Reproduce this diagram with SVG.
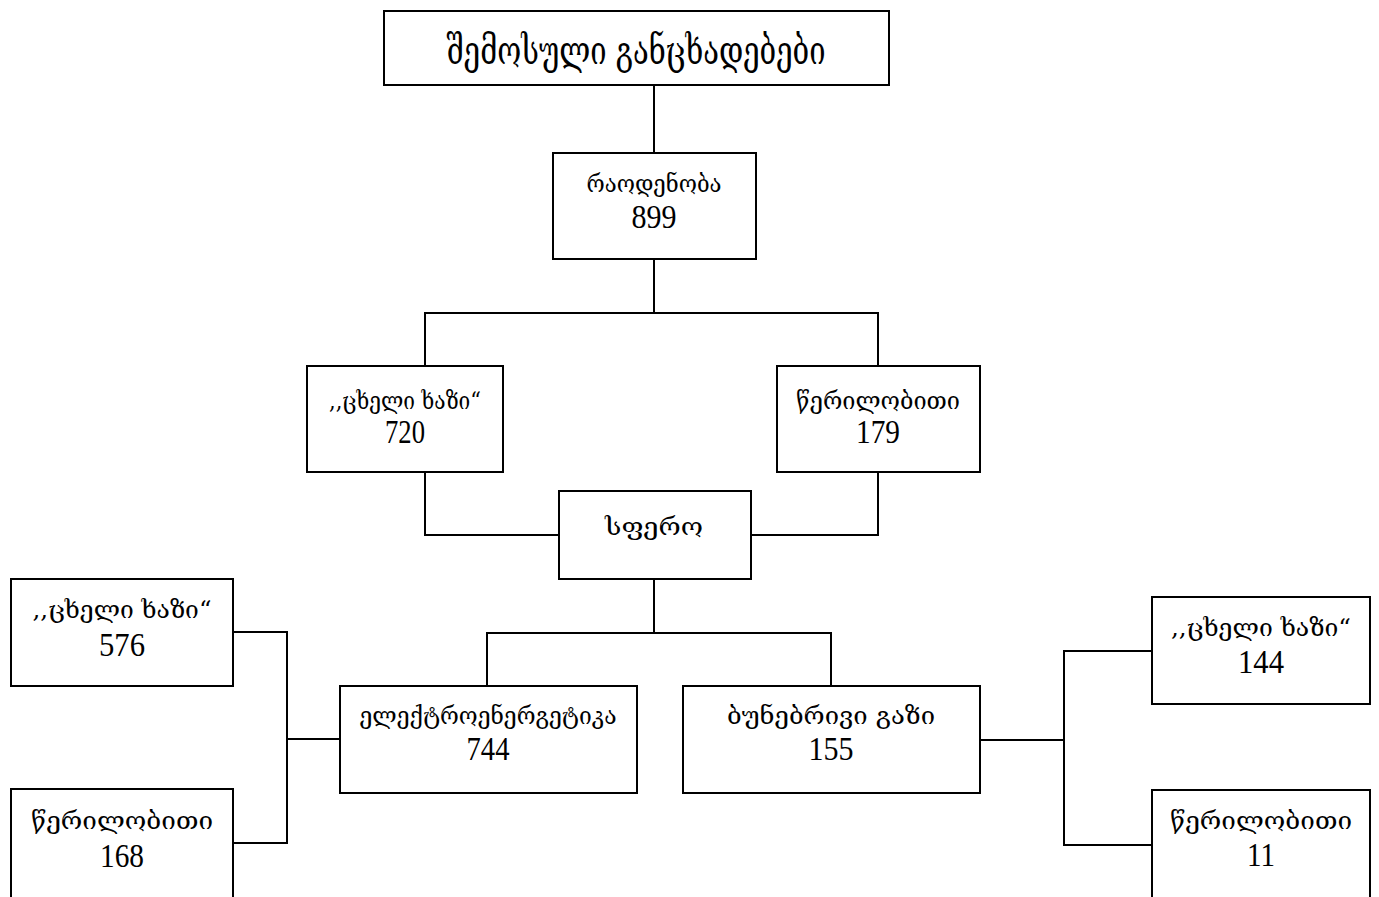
<svg xmlns="http://www.w3.org/2000/svg" width="1379" height="897" viewBox="0 0 1379 897">
<style>
.box{fill:#fff;stroke:#000;stroke-width:2}
.c{fill:none;stroke:#000;stroke-width:2}
.t{font-family:"DejaVu Serif","Liberation Serif",serif;fill:#000;text-anchor:middle}
.num{font-family:"Liberation Serif","Times New Roman",serif;fill:#000;text-anchor:middle}
.g{font-size:24px}
.gs{font-size:25px}
.n{font-size:33px}
.ns{font-size:34px}
</style>
<rect width="1379" height="897" fill="#fff"/>
<g id="connectors">
<path class="c" d="M654 85V153"/>
<path class="c" d="M654 259V313M425 366V313H878V366"/>
<path class="c" d="M425 472V535H559M878 472V535H751"/>
<path class="c" d="M654 579V633M487 686V633H831V686"/>
<path class="c" d="M233 632H287V843H233M287 739H340"/>
<path class="c" d="M980 740H1064M1152 651H1064V845H1152"/>
</g>
<g id="n-top"><rect class="box" x="384" y="11" width="505" height="74"/>
<text class="t" x="636" y="64" font-size="40" textLength="379" lengthAdjust="spacingAndGlyphs">შემოსული  განცხადებები</text></g>
<g id="n-count"><rect class="box" x="553" y="153" width="203" height="106"/>
<text class="t g" x="654" y="192" textLength="135" lengthAdjust="spacingAndGlyphs">რაოდენობა</text>
<text class="num n" x="654" y="228" textLength="45" lengthAdjust="spacingAndGlyphs">899</text></g>
<g id="n-hot"><rect class="box" x="307" y="366" width="196" height="106"/>
<text class="t g" x="405" y="409" textLength="152" lengthAdjust="spacingAndGlyphs">,,ცხელი  ხაზი“</text>
<text class="num n" x="405" y="443" textLength="40" lengthAdjust="spacingAndGlyphs">720</text></g>
<g id="n-written"><rect class="box" x="777" y="366" width="203" height="106"/>
<text class="t g" x="878" y="409" textLength="164" lengthAdjust="spacingAndGlyphs">წერილობითი</text>
<text class="num n" x="878" y="443" textLength="44" lengthAdjust="spacingAndGlyphs">179</text></g>
<g id="n-sphere"><rect class="box" x="559" y="491" width="192" height="88"/>
<text class="t gs" x="654" y="535" font-size="27" textLength="98" lengthAdjust="spacingAndGlyphs">სფერო</text></g>
<g id="n-elec"><rect class="box" x="340" y="686" width="297" height="107"/>
<text class="t g" x="488" y="724" textLength="257" lengthAdjust="spacingAndGlyphs">ელექტროენერგეტიკა</text>
<text class="num n" x="488" y="760" textLength="43" lengthAdjust="spacingAndGlyphs">744</text></g>
<g id="n-gas"><rect class="box" x="683" y="686" width="297" height="107"/>
<text class="t g" x="831" y="724" textLength="208" lengthAdjust="spacingAndGlyphs">ბუნებრივი  გაზი</text>
<text class="num n" x="831" y="760" textLength="45" lengthAdjust="spacingAndGlyphs">155</text></g>
<g id="n-elec-hot"><rect class="box" x="11" y="579" width="222" height="107"/>
<text class="t gs" x="122" y="618" textLength="179" lengthAdjust="spacingAndGlyphs">,,ცხელი  ხაზი“</text>
<text class="num ns" x="122" y="656" textLength="46" lengthAdjust="spacingAndGlyphs">576</text></g>
<g id="n-elec-written"><rect class="box" x="11" y="789" width="222" height="110"/>
<text class="t gs" x="122" y="829" textLength="182" lengthAdjust="spacingAndGlyphs">წერილობითი</text>
<text class="num ns" x="122" y="867" textLength="44" lengthAdjust="spacingAndGlyphs">168</text></g>
<g id="n-gas-hot"><rect class="box" x="1152" y="597" width="218" height="107"/>
<text class="t gs" x="1261" y="636" textLength="180" lengthAdjust="spacingAndGlyphs">,,ცხელი  ხაზი“</text>
<text class="num ns" x="1261" y="673" textLength="46" lengthAdjust="spacingAndGlyphs">144</text></g>
<g id="n-gas-written"><rect class="box" x="1152" y="790" width="218" height="110"/>
<text class="t gs" x="1261" y="829" textLength="182" lengthAdjust="spacingAndGlyphs">წერილობითი</text>
<text class="num ns" x="1261" y="866" textLength="28" lengthAdjust="spacingAndGlyphs">11</text></g>
</svg>
